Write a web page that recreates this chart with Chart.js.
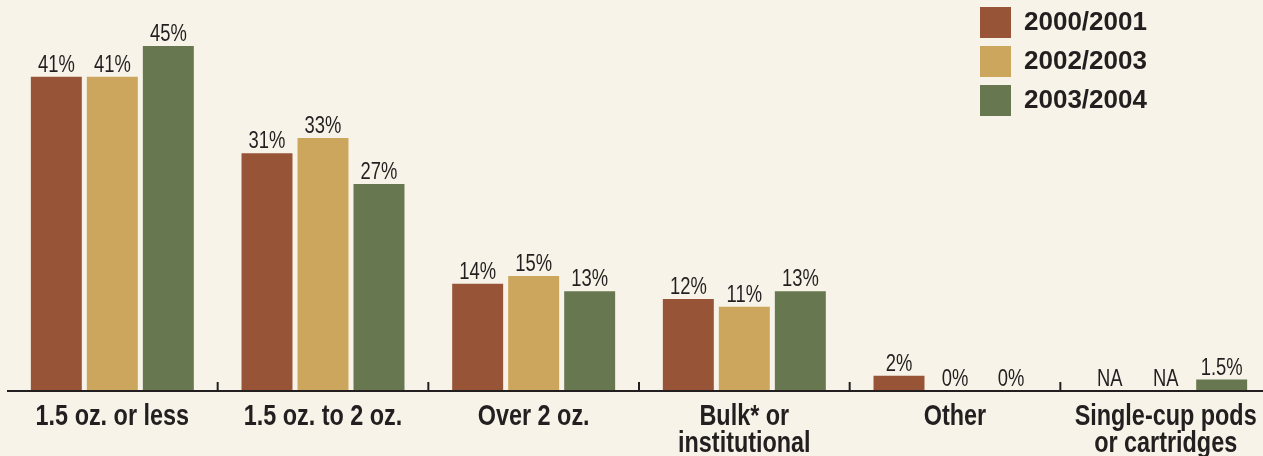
<!DOCTYPE html>
<html>
<head>
<meta charset="utf-8">
<script src="https://cdn.jsdelivr.net/npm/chart.js@4/dist/chart.umd.min.js"></script>
<style>
  html, body { margin: 0; padding: 0; background: #f7f3e8; overflow: hidden; }
  #chart { display: block; width: 1280px; height: 456px; }
</style>
</head>
<body>
<canvas id="chart" width="1280" height="456"></canvas>
<script>
const categories = [
    '1.5 oz. or less',
    '1.5 oz. to 2 oz.',
    'Over 2 oz.',
    ['Bulk* or', 'institutional'],
    'Other',
    ['Single-cup pods', 'or cartridges']
];
const seriesNames = ['2000/2001', '2002/2003', '2003/2004'];
const values2000 = [41, 31, 14, 12, 2, null];
const values2002 = [41, 33, 15, 11, 0, null];
const values2003 = [45, 27, 13, 13, 0, 1.5];
const seriesColors = ['#975436', '#cda65d', '#67774f'];

const ink = '#231f20';
const sans = "'Liberation Sans', Arial, sans-serif";

// no narrow face installed, so squeeze Liberation Sans horizontally
function narrowText(ctx, text, x, y, squeeze) {
    ctx.save();
    ctx.translate(x, y);
    ctx.scale(squeeze, 1);
    ctx.fillText(text, 0, 0);
    ctx.restore();
}

// value labels above bars, NA for missing
const valueLabels = {
    id: 'valueLabels',
    afterDatasetsDraw(chart) {
        const ctx = chart.ctx;
        const base = chart.scales.y.getPixelForValue(0);
        ctx.save();
        ctx.fillStyle = ink;
        ctx.font = '23px ' + sans;
        ctx.textAlign = 'center';
        ctx.textBaseline = 'alphabetic';
        chart.data.datasets.forEach((ds, i) => {
            const meta = chart.getDatasetMeta(i);
            meta.data.forEach((bar, j) => {
                const v = ds.data[j];
                const text = v === null ? 'NA' : v + '%';
                const y = v === null ? base : bar.y;
                narrowText(ctx, text, bar.x, y - 5, 0.8);
            });
        });
        ctx.restore();
    }
};

// baseline, small upward ticks between groups, category names below
const axisLine = {
    id: 'axisLine',
    afterDatasetsDraw(chart) {
        const ctx = chart.ctx;
        const x = chart.scales.x;
        const y = chart.scales.y.getPixelForValue(0);
        ctx.save();
        ctx.strokeStyle = ink;
        ctx.lineWidth = 2.2;
        ctx.beginPath();
        ctx.moveTo(chart.chartArea.left, y);
        ctx.lineTo(chart.chartArea.right, y);
        ctx.stroke();
        ctx.lineWidth = 2;
        for (let i = 0; i < categories.length - 1; i++) {
            const mid = (x.getPixelForValue(i) + x.getPixelForValue(i + 1)) / 2;
            ctx.beginPath();
            ctx.moveTo(mid, y);
            ctx.lineTo(mid, y - 9);
            ctx.stroke();
        }
        ctx.fillStyle = ink;
        ctx.font = 'bold 30px ' + sans;
        ctx.textAlign = 'center';
        ctx.textBaseline = 'alphabetic';
        categories.forEach((c, i) => {
            const lines = Array.isArray(c) ? c : [c];
            lines.forEach((line, k) => {
                narrowText(ctx, line, x.getPixelForValue(i), y + 34 + k * 27, 0.78);
            });
        });
        ctx.restore();
    }
};

// legend in the top right corner
const boxLegend = {
    id: 'boxLegend',
    afterDraw(chart) {
        const ctx = chart.ctx;
        ctx.save();
        ctx.font = 'bold 26px ' + sans;
        ctx.textBaseline = 'middle';
        chart.data.datasets.forEach((ds, i) => {
            const top = 7 + i * 39;
            ctx.fillStyle = ds.backgroundColor;
            ctx.fillRect(980, top, 31, 31);
            ctx.fillStyle = ink;
            ctx.fillText(ds.label, 1024, top + 16);
        });
        ctx.restore();
    }
};

const ctx = document.getElementById('chart').getContext('2d');
new Chart(ctx, {
    type: 'bar',
    data: {
        labels: categories,
        datasets: [
            { label: seriesNames[0], data: values2000, backgroundColor: seriesColors[0] },
            { label: seriesNames[1], data: values2002, backgroundColor: seriesColors[1] },
            { label: seriesNames[2], data: values2003, backgroundColor: seriesColors[2] }
        ]
    },
    options: {
        responsive: false,
        devicePixelRatio: 1,
        animation: false,
        categoryPercentage: 0.7975,
        barPercentage: 0.91,
        layout: { padding: { left: 7, right: 9, top: 0, bottom: 65 } },
        plugins: {
            legend: { display: false },
            tooltip: { enabled: false }
        },
        scales: {
            x: { display: false },
            y: { display: false, min: 0, max: 51 }
        }
    },
    plugins: [valueLabels, axisLine, boxLegend]
});
</script>
</body>
</html>
